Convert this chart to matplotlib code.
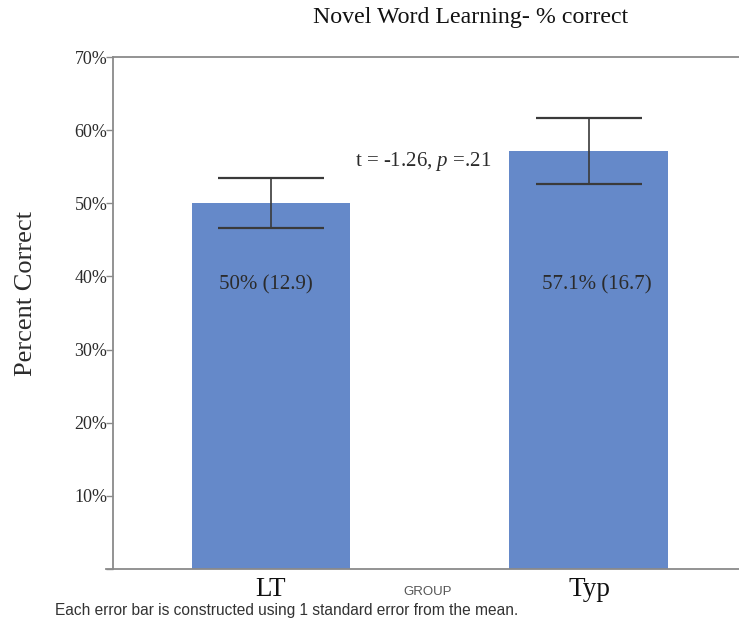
import matplotlib
matplotlib.use("Agg")
import matplotlib.pyplot as plt
import numpy as np

# ── Data ──────────────────────────────────────────────────────────────────────
groups = ["LT", "Typ"]
means = [50.0, 57.1]          # percent correct
se = [3.4, 4.5]               # 1 standard error
bar_labels = ["50% (12.9)", "57.1% (16.7)"]
yticks = [0, 10, 20, 30, 40, 50, 60, 70]
ytick_labels = ["", "10%", "20%", "30%", "40%", "50%", "60%", "70%"]

# ── Style ─────────────────────────────────────────────────────────────────────
SERIF = "Liberation Serif"
SANS = "Liberation Sans"
BAR = "#6589c9"
AXIS = "#8a8a8a"
TXT = "#2b2b2b"

plt.rcParams["mathtext.fontset"] = "custom"
plt.rcParams["mathtext.rm"] = SERIF
plt.rcParams["mathtext.it"] = SERIF + ":italic"

fig = plt.figure(figsize=(7.39, 6.31), dpi=100, facecolor="white")
W, H = 739, 631
ax = fig.add_axes([113 / W, 1 - 569 / H, 1 - 113 / W, (569 - 57) / H])

x = np.arange(len(groups))
ax.bar(x, means, width=0.5, color=BAR, zorder=2)

eb = ax.errorbar(x, means, yerr=se, fmt="none", ecolor="#3a3a3a",
                 elinewidth=1.2, capsize=38.5, capthick=1.6, zorder=3)
caps = eb[1]
caps[0].set_color("#3a3a3a")   # lower cap
caps[1].set_color("#9a9a9a")   # upper cap

ax.set_xlim(-0.497, 1.472)
ax.set_ylim(0, 70)

# value labels inside the bars (slightly off-centre as in the original)
label_shift = [-0.015, 0.025]
for xi, lab, dx in zip(x, bar_labels, label_shift):
    ax.text(xi + dx, 38.8, lab, ha="center", va="center", fontsize=15,
            family=SERIF, color=TXT, zorder=4)

ax.text(0.478, 55.7, r"t = -1.26, $\it{p}$ =.21", ha="center", va="center",
        fontsize=15, family=SERIF, color=TXT)

# axes
ax.spines["right"].set_visible(False)
for s in ["left", "bottom", "top"]:
    ax.spines[s].set_color(AXIS)
    ax.spines[s].set_linewidth(1.3)

ax.set_yticks(yticks)
ax.set_yticklabels(ytick_labels, family=SERIF, fontsize=13, color=TXT)
ax.tick_params(axis="y", length=5, width=1, color=AXIS, pad=-1)
ax.set_xticks([])

ax.set_ylabel("Percent Correct", family=SERIF, fontsize=19, color=TXT)
ax.yaxis.set_label_coords(-(113 - 37) / (W - 113), (569 - 293) / (569 - 57))

# x-axis extends a little past the y-axis
ax.plot([-0.52, -0.497], [0, 0], color=AXIS, lw=1.3, clip_on=False)

# group labels below axis
for xi, g in zip(x, groups):
    fig.text((271 + 318 * xi) / W, 1 - 589 / H, g, ha="center", va="center",
             fontsize=19.5, family=SERIF, color="#111111")
fig.text(428 / W, 1 - 592 / H, "GROUP", ha="center", va="center",
         fontsize=9.5, family=SANS, color="#555555")

fig.text(471 / W, 1 - 18 / H, "Novel Word Learning- % correct", ha="center",
         va="center", fontsize=17.2, family=SERIF, color="#111111")

fig.text(55 / W, 1 - 610 / H,
         "Each error bar is constructed using 1 standard error from the mean.",
         ha="left", va="center", fontsize=11.2, family=SANS, color="#333333")

fig.savefig("out.png", dpi=100, facecolor="white")
